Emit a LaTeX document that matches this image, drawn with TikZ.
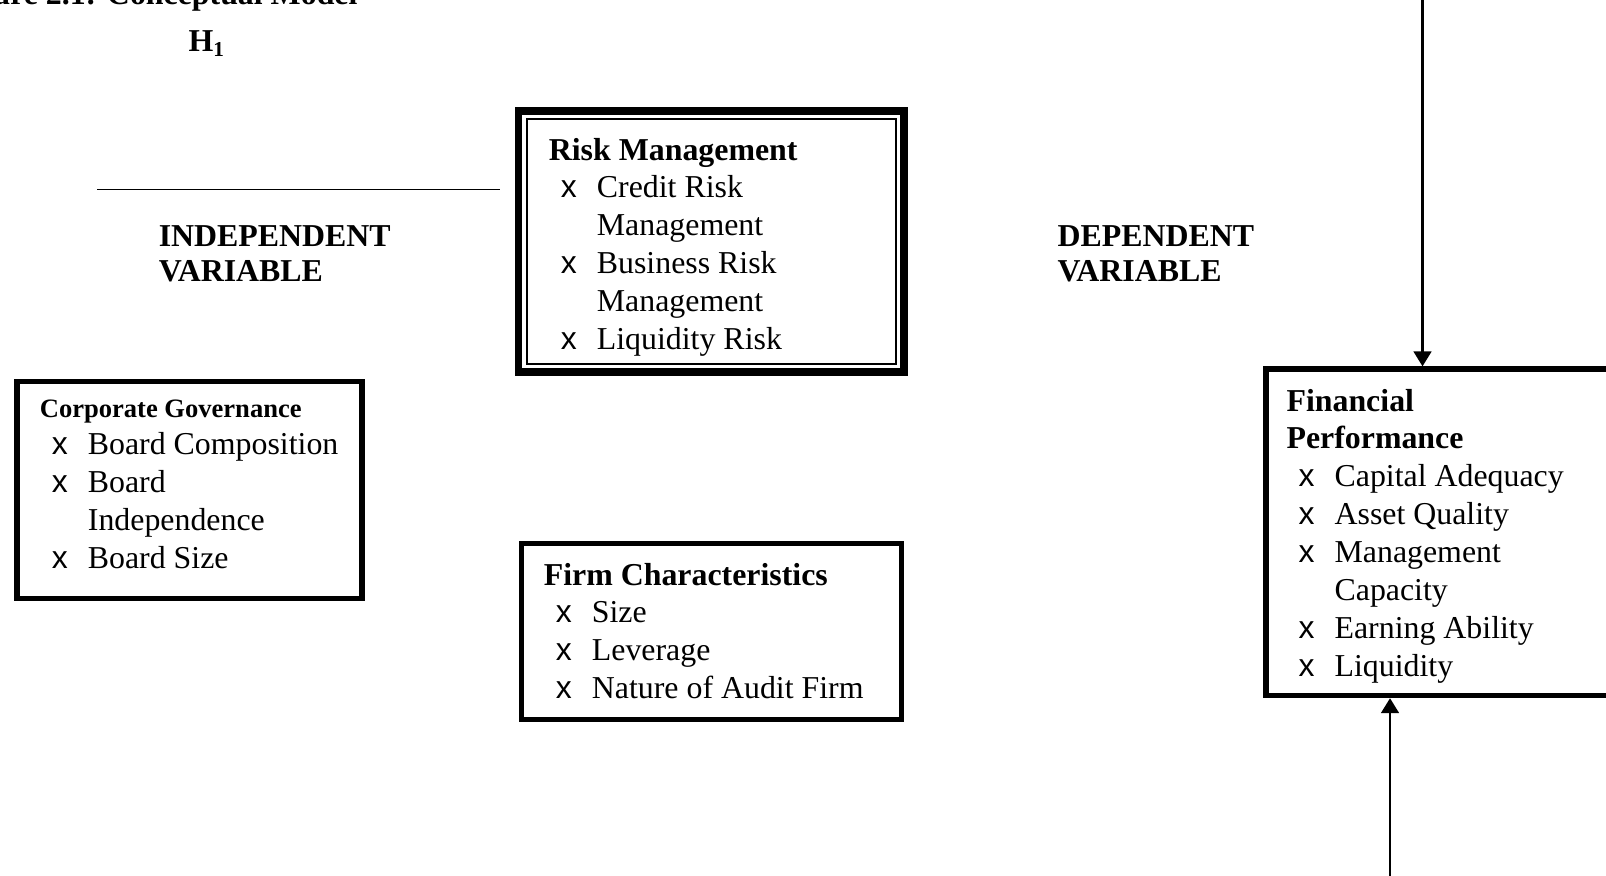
\documentclass[tikz,border=0pt]{standalone}
\usepackage{fontspec}
\setmainfont{Liberation Serif}
\newfontfamily\bulletfont{Liberation Sans}
\usetikzlibrary{arrows.meta, fit}

% list marker used in every box
\newcommand{\xbul}{{\bulletfont x}}
\newcommand{\listspec}{@{\hspace{4.5pt}}p{13.6pt}@{}l@{}}

\begin{document}
\begin{tikzpicture}[x=0.3766pt, y=-0.3766pt,
    font=\fontsize{12}{14.3}\selectfont,
    box/.style={draw, line width=2pt, inner sep=0pt},
    varlist/.style={anchor=base west, inner sep=0pt},
    caption/.style={anchor=base west, inner sep=0pt,
        font=\fontsize{12}{13.4}\selectfont\bfseries},
    arr/.style={-{Triangle[width=6.6pt,length=5.6pt]}, line width=1pt}]

    \useasboundingbox (0,0) rectangle (1606,875);
    \clip (0,0) rectangle (1606,875);

    \node[caption, anchor=base east] (title) at (358,4.3) {Figure 2.1: Conceptual Model};
    \node[caption] (hyp) at (188,51.7) {H\textsubscript{1}};

    \node[caption] (indep) at (158.3,246) {\begin{tabular}[t]{@{}l@{}}INDEPENDENT\\VARIABLE\end{tabular}};
    \node[caption] (dep) at (1057,246) {\begin{tabular}[t]{@{}l@{}}DEPENDENT\\VARIABLE\end{tabular}};

    % boxes
    \node[box, line width=3pt, fit={(518.5,111) (904,372)}] (rm) {};
    \draw[line width=0.75pt] ([shift={(12,12)}]rm.north west) rectangle ([shift={(-12,-12)}]rm.south east);
    \node[box, fit={(17,381.7) (362,598.3)}] (cg) {};
    \node[box, fit={(521.7,543.4) (901.3,719.3)}] (fc) {};
    \node[box, fit={(1266,369) (1630,695.5)}] (fp) {};

    % box contents
    \node[varlist] (rmlist) at (548.3,160) {\begin{tabular}[t]{\listspec}
        \multicolumn{2}{@{}l@{}}{\textbf{Risk Management}}\\
        \xbul & Credit Risk\\
              & Management\\
        \xbul & Business Risk\\
              & Management\\
        \xbul & Liquidity Risk
    \end{tabular}};
    \node[varlist] (cglist) at (39.3,417) {\begin{tabular}[t]{\listspec}
        \multicolumn{2}{@{}l@{}}{\fontsize{10}{12}\selectfont\textbf{Corporate Governance}}\\
        \xbul & Board Composition\\
        \xbul & Board\\
              & Independence\\
        \xbul & Board Size
    \end{tabular}};
    \node[varlist] (fclist) at (543.3,585) {\begin{tabular}[t]{\listspec}
        \multicolumn{2}{@{}l@{}}{\textbf{Firm Characteristics}}\\
        \xbul & Size\\
        \xbul & Leverage\\
        \xbul & Nature of Audit Firm
    \end{tabular}};
    \node[varlist] (fplist) at (1286,411) {\begin{tabular}[t]{\listspec}
        \multicolumn{2}{@{}l@{}}{\textbf{Financial}}\\
        \multicolumn{2}{@{}l@{}}{\textbf{Performance}}\\
        \xbul & Capital Adequacy\\
        \xbul & Asset Quality\\
        \xbul & Management\\
              & Capacity\\
        \xbul & Earning Ability\\
        \xbul & Liquidity
    \end{tabular}};

    % connectors
    \coordinate (hstart) at (97,189.5);
    \draw[line width=0.5pt, shorten >=5.3pt] (hstart) -- (hstart -| rm.west);
    \coordinate (topin) at (1422.5,-5);
    \draw[arr] (topin) -- (topin |- fp.north);
    \coordinate (botin) at (1390,880);
    \draw[arr] (botin) -- (botin |- fp.south);
\end{tikzpicture}
\end{document}
